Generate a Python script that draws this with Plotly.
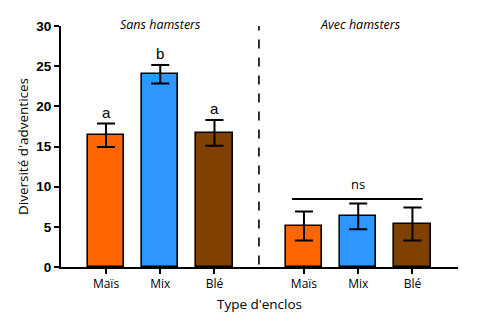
import plotly.graph_objects as go

# Data
groups = ["Sans hamsters", "Avec hamsters"]
crops = ["Maïs", "Mix", "Blé"]
sans_means = [16.4, 24.0, 16.7]
sans_err = [1.45, 1.15, 1.6]
avec_means = [5.1, 6.3, 5.35]
avec_err = [1.8, 1.6, 2.05]
letters = ["a", "b", "a"]
colors = ["#FF6600", "#2F95FF", "#804000"]

# x positions for the two groups of bars
sans_x = [0, 1, 2]
avec_x = [3.65, 4.65, 5.65]
divider_x = 2.82

fig = go.Figure()
for xs, means, errs in [(sans_x, sans_means, sans_err), (avec_x, avec_means, avec_err)]:
    fig.add_trace(go.Bar(
        x=xs, y=means, width=0.67,
        marker=dict(color=colors, line=dict(color="black", width=1.6)),
        error_y=dict(type="data", array=errs, visible=True,
                     color="black", thickness=2, width=9),
        showlegend=False, hoverinfo="skip",
    ))

# significance letters above the error bars
for x, m, e, t in zip(sans_x, sans_means, sans_err, letters):
    fig.add_annotation(x=x, y=m + e, text=t, showarrow=False, yshift=11,
                       font=dict(family="Liberation Sans, Arial", size=15, color="black"))

# "ns" bracket over the second group
ns_y = 8.45
fig.add_shape(type="line", x0=avec_x[0] - 0.22, x1=avec_x[2] + 0.19, y0=ns_y, y1=ns_y,
              line=dict(color="black", width=2))
fig.add_annotation(x=(avec_x[0] + avec_x[2]) / 2, y=ns_y, text="ns", showarrow=False, yshift=15,
                   font=dict(family="Open Sans", size=13, color="black"))

# dashed divider between groups
fig.add_shape(type="line", x0=divider_x, x1=divider_x, y0=0.3, y1=30.1,
              line=dict(color="black", width=1.6, dash="dash"))

# group titles
for xc, g in [(1, groups[0]), (4.7, groups[1])]:
    fig.add_annotation(x=xc, y=30, text=f"<i>{g}</i>", showarrow=False, yshift=2,
                       font=dict(family="Open Sans", size=12.5, color="black"))

fig.update_layout(
    width=500, height=325,
    margin=dict(l=61, r=42, t=26, b=58),
    paper_bgcolor="white", plot_bgcolor="white",
    bargap=0,
    xaxis=dict(
        range=[-0.83, 6.49],
        tickvals=sans_x + avec_x, ticktext=crops + crops,
        showline=True, linecolor="black", linewidth=2,
        ticks="outside", ticklen=5, tickwidth=1.6, tickcolor="black",
        showgrid=False, zeroline=False,
        tickfont=dict(family="Open Sans", size=12, color="black"),
        title=dict(text="Type d'enclos", standoff=8,
                   font=dict(family="Open Sans", size=13.5, color="black")),
    ),
    yaxis=dict(
        range=[0, 30], tickvals=[0, 5, 10, 15, 20, 25, 30],
        showline=True, linecolor="black", linewidth=2,
        ticks="outside", ticklen=5, tickwidth=2, tickcolor="black",
        showgrid=False, zeroline=False,
        tickfont=dict(family="Liberation Sans, Arial", size=13.5, color="black", weight="bold"),
        title=dict(text="Diversité d'adventices", standoff=5,
                   font=dict(family="Open Sans", size=13.5, color="black")),
    ),
)

fig.write_html("out.html")
